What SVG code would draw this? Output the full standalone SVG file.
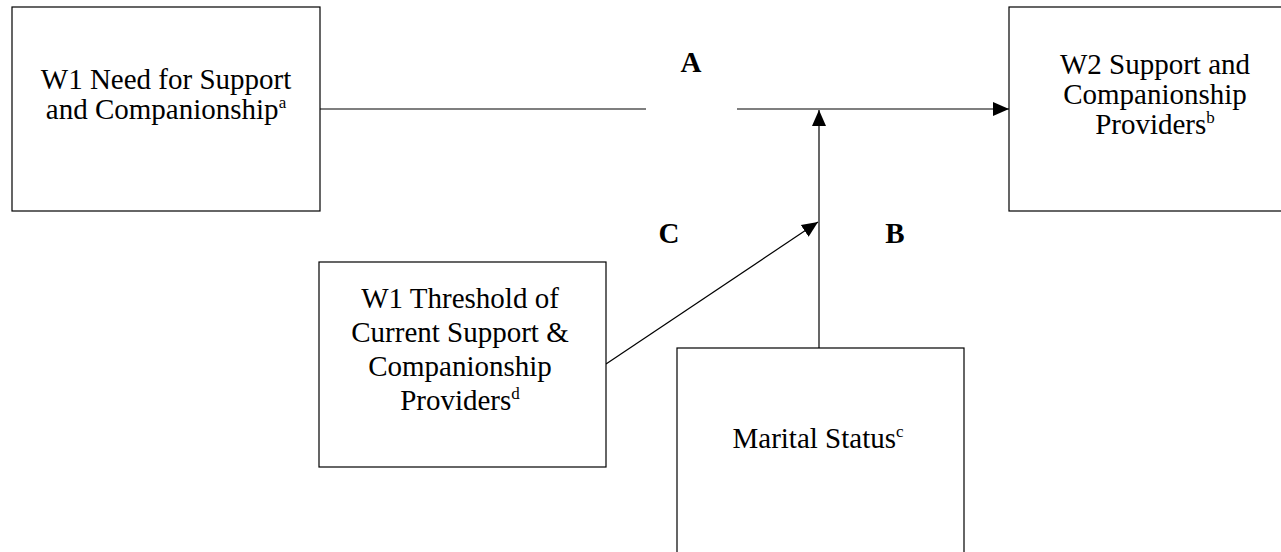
<svg xmlns="http://www.w3.org/2000/svg" width="1281" height="552" viewBox="0 0 1281 552">
  <defs>
    <marker id="arrow" markerUnits="userSpaceOnUse" markerWidth="16" markerHeight="16" viewBox="0 0 16 16" refX="16" refY="8" orient="auto">
      <path d="M0,1 L16,8 L0,15 Z" fill="#000"/>
    </marker>
    <style>
      .box { fill: #fff; stroke: #000; stroke-width: 1.2; }
      .lbl { font-family: "Liberation Serif", "Times New Roman", serif; font-size: 29px; fill: #000; text-anchor: middle; }
      .path-lbl { font-family: "Liberation Serif", "Times New Roman", serif; font-size: 29px; font-weight: bold; fill: #000; text-anchor: middle; }
      .sup { font-size: 17px; }
      .conn { stroke: #000; stroke-width: 1.2; fill: none; }
    </style>
  </defs>
  <rect width="1281" height="552" fill="#fff"/>

  <!-- paths A, B, C and the moderator links -->
  <g id="connectors">
    <line class="conn" x1="320" y1="109" x2="646" y2="109"/>
    <line class="conn" x1="737" y1="109" x2="1009" y2="109" marker-end="url(#arrow)"/>
    <line class="conn" x1="819" y1="348" x2="819" y2="110" marker-end="url(#arrow)"/>
    <line class="conn" x1="606" y1="364" x2="818" y2="222" marker-end="url(#arrow)"/>
    <text class="path-lbl" x="691" y="72">A</text>
    <text class="path-lbl" x="669" y="243">C</text>
    <text class="path-lbl" x="895" y="243">B</text>
  </g>

  <g id="need">
    <rect class="box" x="12" y="7" width="308" height="204"/>
    <text class="lbl" x="166" y="89">W1 Need for Support</text>
    <text class="lbl" x="166" y="119">and Companionship<tspan class="sup" dy="-11">a</tspan></text>
  </g>

  <g id="providers">
    <rect class="box" x="1009" y="7" width="292" height="204"/>
    <text class="lbl" x="1155" y="74">W2 Support and</text>
    <text class="lbl" x="1155" y="104">Companionship</text>
    <text class="lbl" x="1155" y="134">Providers<tspan class="sup" dy="-11">b</tspan></text>
  </g>

  <g id="threshold">
    <rect class="box" x="319" y="262" width="287" height="205"/>
    <text class="lbl" x="460" y="308">W1 Threshold of</text>
    <text class="lbl" x="460" y="342">Current Support &amp;</text>
    <text class="lbl" x="460" y="376">Companionship</text>
    <text class="lbl" x="460" y="410">Providers<tspan class="sup" dy="-11">d</tspan></text>
  </g>

  <g id="marital">
    <rect class="box" x="677" y="348" width="287" height="214"/>
    <text class="lbl" x="818" y="448">Marital Status<tspan class="sup" dy="-11">c</tspan></text>
  </g>
</svg>
